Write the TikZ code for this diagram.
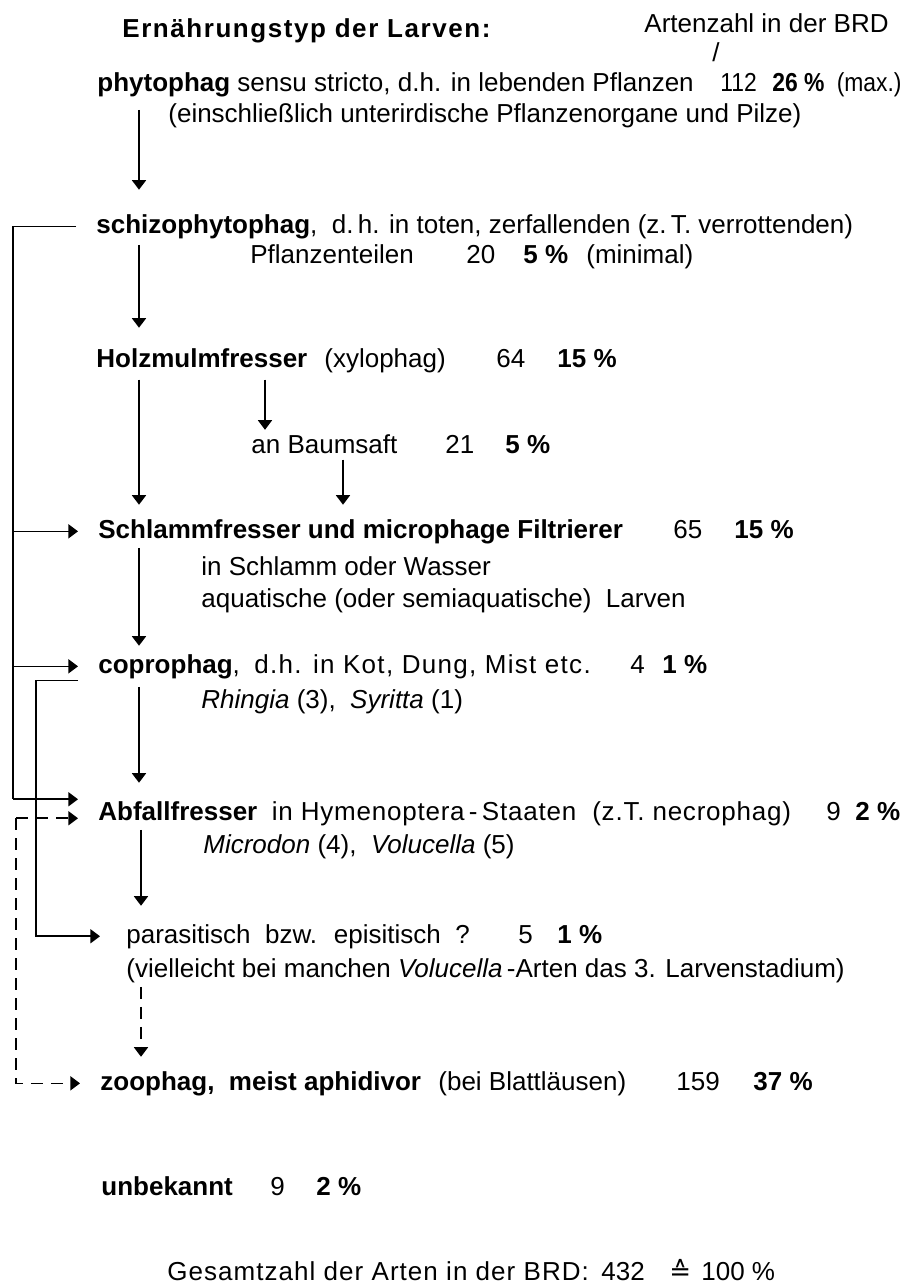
\documentclass[tikz,border=0pt]{standalone}
\usepackage{fontspec}
\setmainfont{Liberation Sans}
\newfontfamily\djv{DejaVu Sans}
\newfontfamily\narrowsans[FakeStretch=0.88]{Liberation Sans}
\usetikzlibrary{arrows.meta}

\begin{document}
\begin{tikzpicture}[x=0.5pt,y=-0.5pt,
txt/.style = {anchor=base west,inner sep=2pt,font=\fontsize{13}{15}\selectfont},
nar/.style = {txt,font=\fontsize{13}{15}\narrowsans},
edg/.style = {draw,line width=0.8pt},
arr/.style = {draw,line width=0.8pt,-{Triangle[length=4.8pt,width=7pt]}},
dsh/.style = {arr,dash pattern=on 6pt off 4pt}
]
  \useasboundingbox[fill=white] (0,0) rectangle (904,1284);
  \coordinate (ca) at (139,0);
  \coordinate (cb) at (141,0);
  \coordinate (cc) at (265,0);
  \coordinate (cd) at (343,0);
  \coordinate (la) at (13,0);
  \coordinate (lb) at (36,0);
  \coordinate (lc) at (16,0);

  \node[txt] (title) at (118,38) {\addfontfeature{LetterSpace=6}\textbf{Ernährungstyp der Larven:}};
  \node[txt] (arten) at (640,33) {Artenzahl in der BRD};
  \node[txt] (slash) at (708,62) {/};

  \node[txt] (phyto) at (93,92) {\textbf{phytophag} sensu stricto, d.h. in lebenden Pflanzen};
  \node[nar] (phyton) at (716,92) {112};
  \node[nar] (phytop) at (768,92) {\textbf{26 \%}};
  \node[nar,anchor=base east] (phytom) at (906,92) {(max.)};
  \node[txt] (phytonote) at (164,123) {(einschließlich unterirdische Pflanzenorgane und Pilze)};

  \node[txt] (schizo) at (92,233) {\textbf{schizophytophag}, \ d.\,h. in toten, zerfallenden (z.\,T. verrottenden)};
  \node[txt] (schizonote) at (246,263) {Pflanzenteilen};
  \node[txt] (schizon) at (462,263) {20};
  \node[txt] (schizop) at (519,263) {\textbf{5 \%}};
  \node[txt] (schizom) at (582,263) {(minimal)};

  \node[txt] (holz) at (92,367) {\textbf{Holzmulmfresser}};
  \node[txt] (holzx) at (320,367) {(xylophag)};
  \node[txt] (holzn) at (492,367) {64};
  \node[txt] (holzp) at (553,367) {\textbf{15 \%}};

  \node[txt] (baum) at (247,453) {an Baumsaft};
  \node[txt] (baumn) at (441,453) {21};
  \node[txt] (baump) at (501,453) {\textbf{5 \%}};

  \node[txt] (schlamm) at (94,538) {\textbf{Schlammfresser und microphage Filtrierer}};
  \node[txt] (schlammn) at (669,538) {65};
  \node[txt] (schlammp) at (730,538) {\textbf{15 \%}};
  \node[txt] (schlammnote) at (197,575) {in Schlamm oder Wasser};
  \node[txt] (schlammaqu) at (197,607) {aquatische (oder semiaquatische) \ Larven};

  \node[txt] (copro) at (94,673) {\textbf{coprophag}, \ {\addfontfeature{LetterSpace=5}d.h. in Kot, Dung, Mist etc.}};
  \node[txt] (copron) at (626,673) {4};
  \node[txt] (coprop) at (658,673) {\textbf{1 \%}};
  \node[txt] (copronote) at (197,708) {\textit{Rhingia} (3), \ \textit{Syritta} (1)};

  \node[txt] (abfall) at (94,820) {\textbf{Abfallfresser} \ {\addfontfeature{LetterSpace=3}in Hymenoptera\,-\,Staaten \ (z.T. necrophag)}};
  \node[txt] (abfalln) at (822,820) {9};
  \node[txt] (abfallp) at (851,820) {\textbf{2 \%}};
  \node[txt] (abfallnote) at (199,853) {\textit{Microdon} (4), \ \textit{Volucella} (5)};

  \node[txt] (parasit) at (122,943) {parasitisch \ bzw. \ episitisch \ ?};
  \node[txt] (parasitn) at (514,943) {5};
  \node[txt] (parasitp) at (553,943) {\textbf{1 \%}};
  \node[txt] (parasitnote) at (122,977) {(vielleicht bei manchen \textit{Volucella}\,-Arten das 3. Larvenstadium)};

  \node[txt] (zoo) at (96,1090) {\textbf{zoophag, \ meist aphidivor}};
  \node[txt] (zoox) at (434,1090) {(bei Blattläusen)};
  \node[txt] (zoon) at (672,1090) {159};
  \node[txt] (zoop) at (749,1090) {\textbf{37 \%}};

  \node[txt] (unbek) at (97,1195) {\textbf{unbekannt}};
  \node[txt] (unbekn) at (266,1195) {9};
  \node[txt] (unbekp) at (312,1195) {\textbf{2 \%}};

  \node[txt] (total) at (163,1280) {\addfontfeature{LetterSpace=4}Gesamtzahl der Arten in der BRD:};
  \node[txt] (totaln) at (597,1280) {432};
  \node[txt] (totaleq) at (665,1280) {\djv ≙};
  \node[txt] (totalp) at (697,1280) {100 \%};

  % main chain
  \path[arr,shorten <=4pt,shorten >=10pt] (phyto.south -| ca) -- (schizo.north -| ca);
  \path[arr,shorten <=1pt,shorten >=8pt] (schizo.south -| ca) -- (holz.north -| ca);
  \path[arr,shorten <=4pt,shorten >=5pt] (holz.south -| ca) -- (schlamm.north -| ca);
  \path[arr,shorten <=4pt] (holz.south -| cc) -- (baum.north -| cc);
  \path[arr,shorten <=1pt,shorten >=5pt] (baum.south -| cd) -- (schlamm.north -| cd);
  \path[arr,shorten >=2pt] (schlamm.south -| ca) -- (copro.north -| ca);
  \path[arr,shorten <=2pt,shorten >=7pt] (copro.south -| ca) -- (abfall.north -| ca);
  \path[arr,shorten >=7pt] (abfall.south -| cb) -- (parasit.north -| cb);
  \path[dsh,shorten >=5pt] (parasitnote.south -| cb) -- (zoo.north -| cb);

  % side branches
  \path[edg] ([xshift=-8pt]schizo.west) -- (schizo.west -| la) -- ([yshift=7pt]abfall.west -| la);
  \path[arr,shorten >=8pt] (schlamm.west -| la) -- (schlamm.west);
  \path[arr,shorten >=8pt] (copro.west -| la) -- (copro.west);
  \path[arr,shorten >=8pt] ([yshift=7pt]abfall.west -| la) -- ([yshift=7pt]abfall.west);
  \path[arr,shorten >=11pt] ([shift={(-8pt,-7pt)}]copro.west) -| (parasit.west -| lb) -- (parasit.west);
  \path[dsh,shorten >=8pt] ([yshift=-2.5pt]abfall.west -| lc) -- ([yshift=-2.5pt]abfall.west);
  \path[dsh,shorten >=8pt] ([yshift=-2.5pt]abfall.west -| lc) |- (zoo.west);

\end{tikzpicture}
\end{document}
